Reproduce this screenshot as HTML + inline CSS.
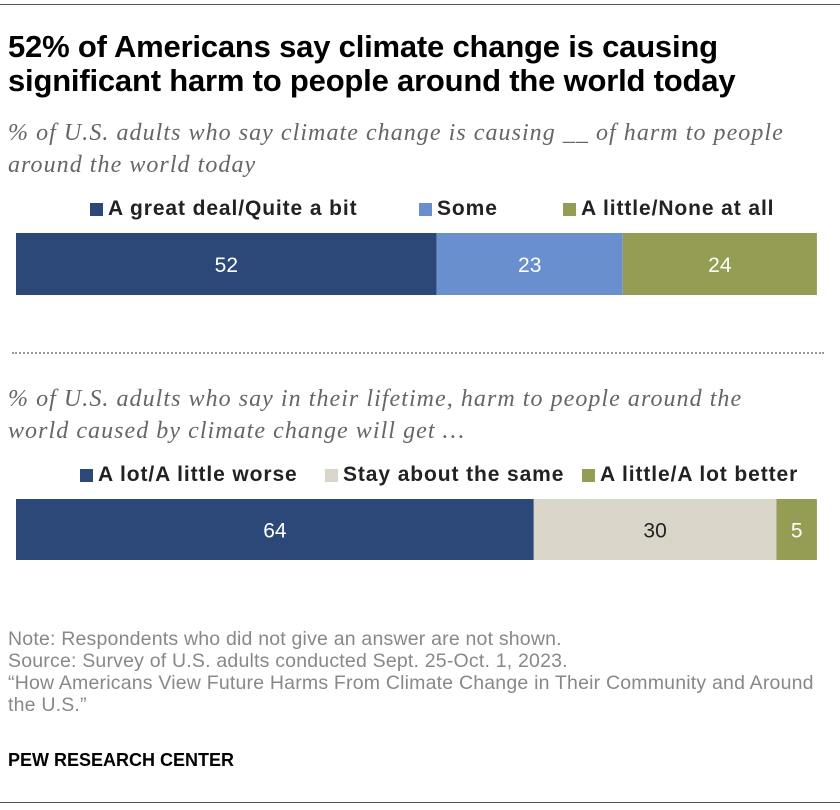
<!DOCTYPE html>
<html><head><meta charset="utf-8"><style>
body{margin:0;width:840px;height:810px;background:#fff;font-family:"Liberation Sans",sans-serif;position:relative;overflow:hidden}
.abs{position:absolute}
.title{left:8px;top:30px;font-size:31px;font-weight:bold;color:#000;line-height:34px;letter-spacing:-0.2px;white-space:nowrap}
.sub{left:8px;font-family:"Liberation Serif",serif;font-style:italic;font-size:24px;letter-spacing:1.05px;color:#666;line-height:32px;white-space:nowrap}
.leg{font-size:21px;letter-spacing:0.9px;font-weight:bold;color:#222;display:flex;align-items:center;white-space:nowrap}
.sw{width:13px;height:13px;margin-right:5px;display:inline-block}
.note{left:8px;font-size:19.5px;letter-spacing:0.2px;color:#888;line-height:22px;white-space:nowrap}
</style></head><body>
<div class="abs" style="left:0;top:4px;width:840px;height:1px;background:#555"></div>
<div class="abs title">52% of Americans say climate change is causing<br>significant harm to people around the world today</div>
<div class="abs sub" style="top:117px">% of U.S. adults who say climate change is causing __ of harm to people<br>around the world today</div>
<div class="abs leg" style="left:90px;top:197px"><span class="sw" style="background:#2b4878"></span>A great deal/Quite a bit</div>
<div class="abs leg" style="left:419px;top:197px"><span class="sw" style="background:#6a8fce"></span>Some</div>
<div class="abs leg" style="left:563px;top:197px"><span class="sw" style="background:#959c54"></span>A little/None at all</div>
<div class="abs" style="left:12px;top:352px;width:812px;border-top:2px dotted #999"></div>
<div class="abs sub" style="top:383px">% of U.S. adults who say in their lifetime, harm to people around the<br>world caused by climate change will get …</div>
<div class="abs leg" style="left:80px;top:463px"><span class="sw" style="background:#2b4878"></span>A lot/A little worse</div>
<div class="abs leg" style="left:325px;top:463px"><span class="sw" style="background:#d9d6c9"></span>Stay about the same</div>
<div class="abs leg" style="left:582px;top:463px"><span class="sw" style="background:#959c54"></span>A little/A lot better</div>
<svg class="abs" style="left:0;top:0" width="840" height="810" id="chart"></svg>
<div class="abs note" style="top:628px">Note: Respondents who did not give an answer are not shown.<br>Source: Survey of U.S. adults conducted Sept. 25-Oct. 1, 2023.<br>“How Americans View Future Harms From Climate Change in Their Community and Around<br>the U.S.”</div>
<div class="abs" style="left:8px;top:750px;font-size:18px;font-weight:bold;color:#000">PEW RESEARCH CENTER</div>
<div class="abs" style="left:0;top:802px;width:840px;height:1px;background:#555"></div>
<script>
const harmValues=[52,23,24];
const futureValues=[64,30,5];
const harmColors=["#2b4878","#6a8fce","#959c54"];
const futureColors=["#2b4878","#d9d6c9","#959c54"];
const textColors1=["#fff","#fff","#fff"];
const textColors2=["#fff","#222","#fff"];
const svg=document.getElementById('chart');
const NS="http://www.w3.org/2000/svg";
const x0=16,unit=8.09;
const xs=v=>v*unit;
function drawRow(vals,cols,tcols,y,h,name){
 let cx=x0;
 vals.forEach((v,i)=>{
  const r=document.createElementNS(NS,'rect');
  
  
  r.setAttribute('x',cx);r.setAttribute('y',y);r.setAttribute('width',xs(v));r.setAttribute('height',h);r.setAttribute('fill',cols[i]);
  svg.appendChild(r);
  const t=document.createElementNS(NS,'text');
  
  
  t.setAttribute('x',cx+xs(v)/2);t.setAttribute('y',y+h/2+8);t.setAttribute('text-anchor','middle');
  t.setAttribute('font-size','21');t.setAttribute('fill',tcols[i]);t.setAttribute('font-family','Liberation Sans, sans-serif');
  t.textContent=v;svg.appendChild(t);
  cx+=xs(v);
 });
}
drawRow(harmValues,harmColors,textColors1,233,62,'harm');
drawRow(futureValues,futureColors,textColors2,499,61,'future');
</script>
</body></html>
